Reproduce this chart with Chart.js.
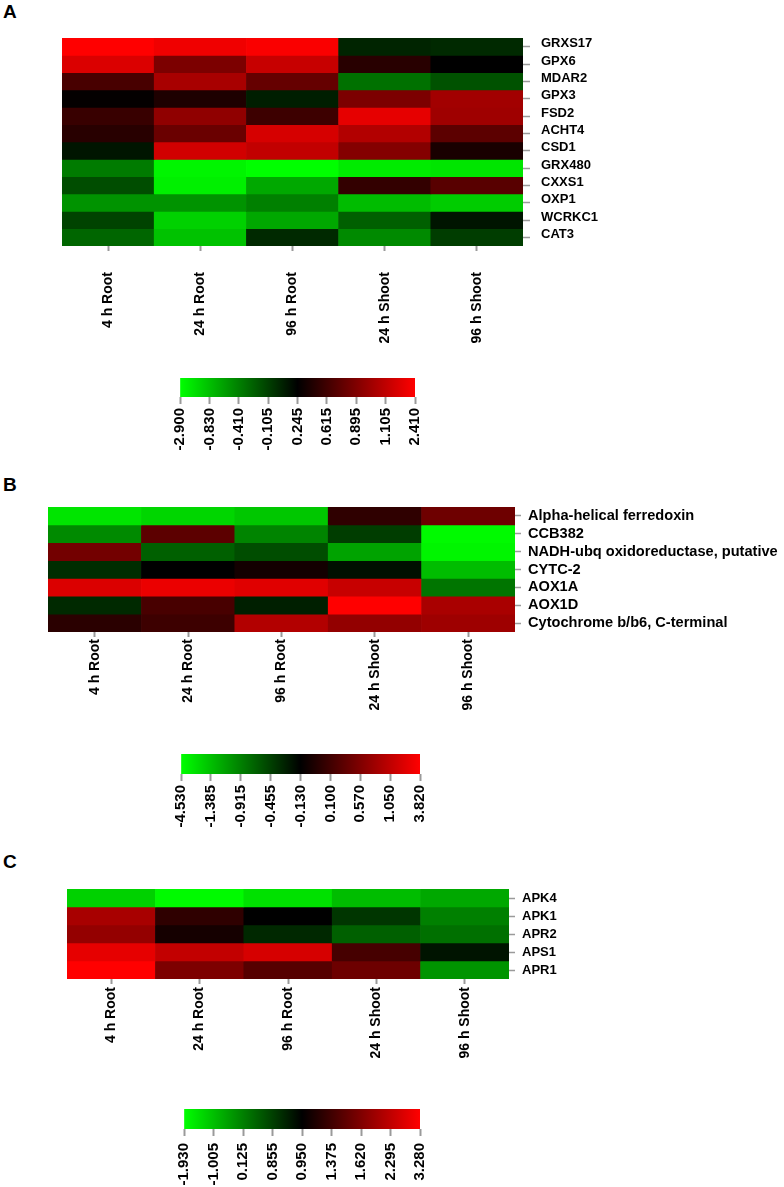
<!DOCTYPE html>
<html>
<head>
<meta charset="utf-8">
<script src="https://cdn.jsdelivr.net/npm/chart.js@4.4.0/dist/chart.umd.min.js"></script>
<style>
  body { margin: 0; background: #fff; }
  #wrap { position: relative; width: 784px; height: 1187px; overflow: hidden;
          font-family: "Liberation Sans", Arial, sans-serif; }
  #wrap canvas { position: absolute; left: 0; }
  .tag { position: absolute; left: 3px; font-weight: bold; font-size: 19px; line-height: 19px; }
</style>
</head>
<body>
<div id="wrap">
  <div class="tag" style="top:2px">A</div>
  <div class="tag" style="top:475px">B</div>
  <div class="tag" style="top:852px">C</div>
  <canvas id="heatA" width="784" height="360" style="top:0px"></canvas>
  <canvas id="barA" width="784" height="90" style="top:370px"></canvas>
  <canvas id="heatB" width="784" height="300" style="top:440px"></canvas>
  <canvas id="barB" width="784" height="90" style="top:745px"></canvas>
  <canvas id="heatC" width="784" height="240" style="top:850px"></canvas>
  <canvas id="barC" width="784" height="87" style="top:1100px"></canvas>
</div>
<script>
const conditions = ["4 h Root", "24 h Root", "96 h Root", "24 h Shoot", "96 h Shoot"];

// panel A
const genesA = ["GRXS17", "GPX6", "MDAR2", "GPX3", "FSD2", "ACHT4", "CSD1",
                "GRX480", "CXXS1", "OXP1", "WCRKC1", "CAT3"];
const valuesA = [
  [2.41, 2.10, 2.31, 0.05, 0.02],
  [1.68, 0.88, 1.26, 0.48, 0.245],
  [0.65, 1.03, 0.78, -0.34, -0.19],
  [0.27, 0.42, 0.08, 0.88, 1.01],
  [0.57, 0.95, 0.60, 1.89, 1.00],
  [0.48, 0.80, 1.58, 1.06, 0.74],
  [0.13, 1.47, 1.16, 0.91, 0.39],
  [-0.39, -2.57, -2.90, -2.24, -2.07],
  [-0.17, -2.40, -0.68, 0.54, 0.72],
  [-0.54, -0.54, -0.41, -0.81, -1.24],
  [-0.12, -1.41, -0.68, -0.26, 0.13],
  [-0.29, -0.91, 0.02, -0.48, -0.09]
];
const legendA = ["-2.900", "-0.830", "-0.410", "-0.105", "0.245", "0.615", "0.895", "1.105", "2.410"];

// panel B
const genesB = ["Alpha-helical ferredoxin", "CCB382", "NADH-ubq oxidoreductase, putative",
                "CYTC-2", "AOX1A", "AOX1D", "Cytochrome b/b6, C-terminal"];
const valuesB = [
  [-3.27, -2.52, -1.76, 0.04, 0.44],
  [-0.99, 0.31, -0.95, -0.44, -4.28],
  [0.48, -0.69, -0.55, -1.18, -4.03],
  [-0.36, -0.13, -0.06, -0.21, -1.37],
  [2.27, 2.93, 2.49, 1.38, -0.84],
  [-0.34, 0.16, -0.29, 3.82, 0.88],
  [0.02, 0.09, 0.95, 0.72, 0.80]
];
const legendB = ["-4.530", "-1.385", "-0.915", "-0.455", "-0.130", "0.100", "0.570", "1.050", "3.820"];

// panel C
const genesC = ["APK4", "APK1", "APR2", "APS1", "APR1"];
const valuesC = [
  [-1.26, -1.86, -1.49, -0.96, -0.60],
  [2.05, 1.26, 0.95, 0.87, 0.125],
  [1.84, 1.09, 0.89, 0.48, 0.30],
  [2.89, 2.33, 2.65, 1.40, 0.92],
  [3.28, 1.61, 1.46, 1.55, -0.24]
];
const legendC = ["-1.930", "-1.005", "0.125", "0.855", "0.950", "1.375", "1.620", "2.295", "3.280"];

const FONT = "'Liberation Sans', Arial, sans-serif";

// value -> colour, stops are spread evenly along the green-black-red key
function cellColor(v, stops) {
  let f = 1;
  if (v <= stops[0]) f = 0;
  else {
    for (let i = 0; i < stops.length - 1; i++) {
      if (v <= stops[i + 1]) {
        f = (i + (v - stops[i]) / (stops[i + 1] - stops[i])) / (stops.length - 1);
        break;
      }
    }
  }
  if (f < 0.5) return "rgb(0," + Math.round(255 * (1 - 2 * f)) + ",0)";
  return "rgb(" + Math.round(255 * (2 * f - 1)) + ",0,0)";
}

function heatmap(id, genes, values, legend, box) {
  const stops = legend.map(Number);
  const datasets = genes.map((g, r) => ({
    label: g,
    data: conditions.map(() => [r, r + 1]),
    backgroundColor: values[r].map(v => cellColor(v, stops)),
    borderWidth: 0,
    barPercentage: 1,
    categoryPercentage: 1,
    grouped: false
  }));
  return new Chart(document.getElementById(id), {
    type: "bar",
    data: { labels: conditions, datasets: datasets },
    options: {
      responsive: false,
      animation: false,
      devicePixelRatio: 1,
      layout: { padding: { left: box.left, top: box.top, right: 0, bottom: 0 } },
      plugins: { legend: { display: false }, tooltip: { enabled: false } },
      scales: {
        x: {
          grid: { offset: false, drawOnChartArea: false, tickLength: 5, tickColor: "#9a9a9a", tickWidth: 2 },
          border: { display: false },
          ticks: {
            autoSkip: false, maxRotation: 90, minRotation: 90, padding: box.xPad,
            color: "#000", font: { family: FONT, size: 14, weight: "bold" }
          },
          afterFit(s) { s.height = box.xh; s.paddingLeft = 0; s.paddingRight = 0; }
        },
        y: {
          type: "linear",
          position: "right",
          reverse: true,
          min: 0,
          max: genes.length,
          afterBuildTicks(s) { s.ticks = genes.map((g, i) => ({ value: i + 0.5 })); },
          grid: { drawOnChartArea: false, tickLength: box.yTick, tickColor: "#9a9a9a", tickWidth: 1.5 },
          border: { display: false },
          ticks: {
            autoSkip: false, padding: box.yPad, labelOffset: box.yOff || 0,
            color: "#000", font: { family: FONT, size: box.ySize, weight: "bold" },
            callback: (v) => genes[Math.floor(v)]
          },
          afterFit(s) { s.width = box.yw; s.paddingTop = 0; s.paddingBottom = 0; }
        }
      }
    }
  });
}

function colorbar(id, legend, box) {
  return new Chart(document.getElementById(id), {
    type: "bar",
    data: {
      labels: [""],
      datasets: [{
        data: [[0, legend.length - 1]],
        backgroundColor: (ctx) => {
          const a = ctx.chart.chartArea;
          if (!a) return "#000";
          const g = ctx.chart.ctx.createLinearGradient(a.left, 0, a.right, 0);
          g.addColorStop(0, "#00ff00");
          g.addColorStop(0.5, "#000000");
          g.addColorStop(1, "#ff0000");
          return g;
        },
        borderWidth: 0,
        barPercentage: 1,
        categoryPercentage: 1
      }]
    },
    options: {
      indexAxis: "y",
      responsive: false,
      animation: false,
      devicePixelRatio: 1,
      layout: { padding: { left: box.left, right: box.right, top: box.top, bottom: 0 } },
      plugins: { legend: { display: false }, tooltip: { enabled: false } },
      scales: {
        y: { display: false },
        x: {
          type: "linear",
          min: 0,
          max: legend.length - 1,
          afterBuildTicks(s) { s.ticks = legend.map((l, i) => ({ value: i })); },
          grid: { drawOnChartArea: false, tickLength: 7, tickColor: "#9a9a9a", tickWidth: 2 },
          border: { display: false },
          ticks: {
            autoSkip: false, maxRotation: 90, minRotation: 90, padding: box.pad,
            color: "#000", font: { family: FONT, size: 15, weight: "bold" },
            callback: (v) => legend[Math.round(v)]
          },
          afterFit(s) { s.height = box.xh; s.paddingLeft = 0; s.paddingRight = 0; }
        }
      }
    }
  });
}

heatmap("heatA", genesA, valuesA, legendA,
  { left: 62, top: 38, yw: 261, xh: 114, xPad: 21, yTick: 7, yPad: 11, ySize: 13, yOff: -3 });
colorbar("barA", legendA, { left: 180, right: 369, top: 8, xh: 63, pad: 4 });

heatmap("heatB", genesB, valuesB, legendB,
  { left: 48, top: 67, yw: 269, xh: 108, xPad: 2, yTick: 6, yPad: 7, ySize: 14.6 });
colorbar("barB", legendB, { left: 181, right: 364, top: 9, xh: 61, pad: 4 });

heatmap("heatC", genesC, valuesC, legendC,
  { left: 67, top: 39, yw: 275, xh: 111, xPad: 3, yTick: 6, yPad: 7, ySize: 13 });
colorbar("barC", legendC, { left: 184, right: 364, top: 9, xh: 58, pad: 7 });
</script>
</body>
</html>
